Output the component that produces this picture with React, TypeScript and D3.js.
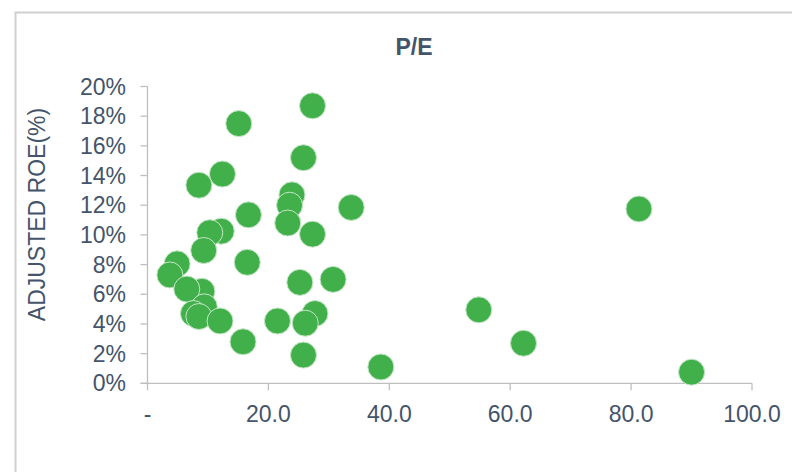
import React from "react";
import * as d3 from "d3";

const peValues: number[] = [
  27.3, 15.1, 25.8, 12.4, 8.5, 23.9, 23.5, 33.7, 16.7, 23.2,
  12.2, 27.3, 10.3, 9.3, 16.5, 4.9, 3.7, 30.7, 25.2, 9.0,
  6.5, 9.4, 27.7, 7.6, 8.5, 12.0, 21.5, 26.1, 15.8, 25.8,
  81.3, 54.8, 62.2, 38.6, 90.0,
];
const roeValues: number[] = [
  18.7, 17.5, 15.2, 14.1, 13.35, 12.7, 12.0, 11.85, 11.35, 10.8,
  10.25, 10.05, 10.15, 8.95, 8.15, 8.05, 7.3, 7.0, 6.8, 6.2,
  6.35, 5.15, 4.7, 4.7, 4.5, 4.2, 4.2, 4.05, 2.8, 1.9,
  11.75, 4.95, 2.7, 1.1, 0.75,
];
const xTicks: number[] = [0, 20, 40, 60, 80, 100];
const xTickLabels: string[] = ["-", "20.0", "40.0", "60.0", "80.0", "100.0"];
const yTicks: number[] = [0, 2, 4, 6, 8, 10, 12, 14, 16, 18, 20];

const TEXT = "#44546a";
const AXIS = "#bfbfbf";
const GREEN = "#42b04a";
const FONT = "'Liberation Sans', Arial, sans-serif";

export default function App() {
  const x = d3.scaleLinear().domain([0, 100]).range([147.5, 752]);
  const y = d3.scaleLinear().domain([0, 20]).range([383.3, 86.5]);
  const points = peValues.map((v, i) => ({ pe: v, roe: roeValues[i] }));

  return (
    <svg
      width={792}
      height={472}
      style={{ position: "absolute", left: 0, top: 0, background: "#fff" }}
    >
      <rect x={15.5} y={12.5} width={800} height={480} fill="#fff" stroke="#d0d0d0" strokeWidth={2} />
      <text x={414} y={55} textAnchor="middle" fontFamily={FONT} fontWeight="bold" fontSize={23} fill={TEXT}>
        P/E
      </text>
      <text
        transform={`translate(45,214.5) rotate(-90)`}
        textAnchor="middle"
        fontFamily={FONT}
        fontSize={23}
        fill={TEXT}
      >
        ADJUSTED ROE(%)
      </text>
      {/* y axis */}
      <line x1={x(0)} x2={x(0)} y1={y(20)} y2={y(0)} stroke={AXIS} strokeWidth={1.3} />
      {yTicks.map((t) => (
        <g key={"y" + t}>
          <line x1={x(0) - 7} x2={x(0)} y1={y(t)} y2={y(t)} stroke={AXIS} strokeWidth={1.3} />
          <text x={126} y={y(t)} dy="0.35em" textAnchor="end" fontFamily={FONT} fontSize={23} fill={TEXT}>
            {t + "%"}
          </text>
        </g>
      ))}
      {/* x axis */}
      <line x1={x(0) - 7} x2={x(100)} y1={y(0)} y2={y(0)} stroke={AXIS} strokeWidth={1.3} />
      {xTicks.map((t, i) => (
        <g key={"x" + t}>
          <line x1={x(t)} x2={x(t)} y1={y(0)} y2={y(0) + 7} stroke={AXIS} strokeWidth={1.3} />
          <text x={x(t)} y={422} textAnchor="middle" fontFamily={FONT} fontSize={23} fill={TEXT}>
            {xTickLabels[i]}
          </text>
        </g>
      ))}
      {points.map((p, i) => (
        <circle
          key={i}
          cx={x(p.pe)}
          cy={y(p.roe)}
          r={13}
          fill={GREEN}
          stroke="#c4e6c6"
          strokeWidth={1}
        />
      ))}
    </svg>
  );
}
